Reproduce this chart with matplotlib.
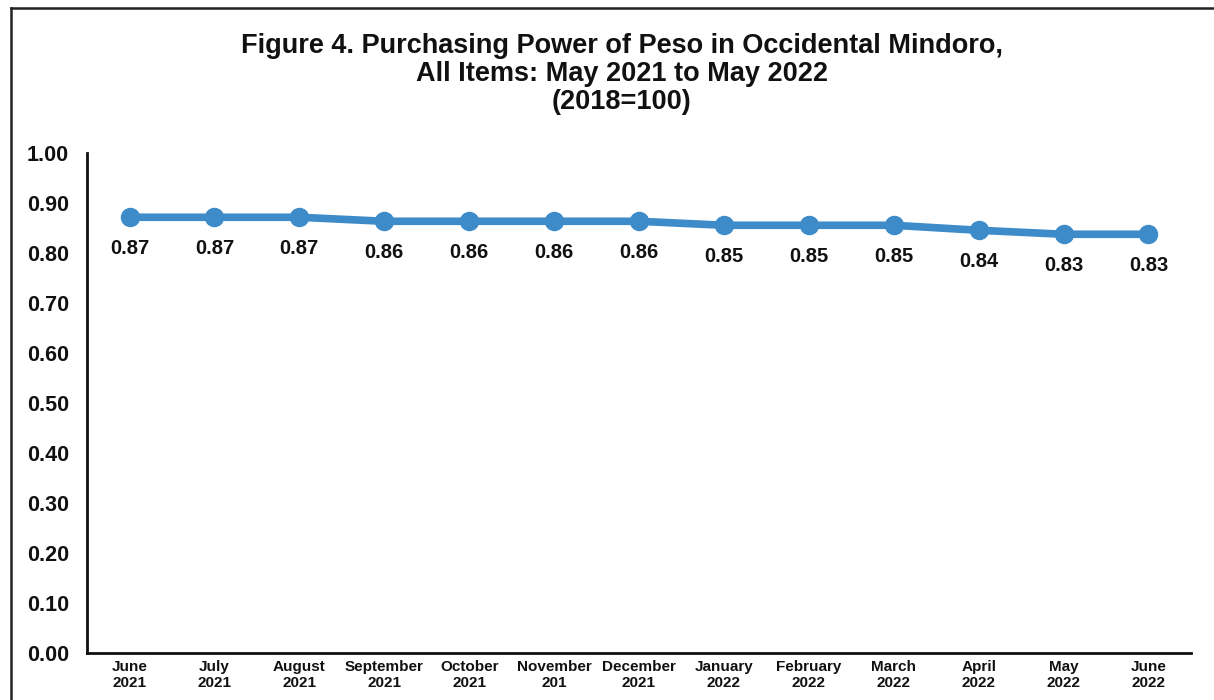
import matplotlib
matplotlib.use("Agg")
import matplotlib.pyplot as plt
from matplotlib.lines import Line2D

months = ["June\n2021", "July\n2021", "August\n2021", "September\n2021", "October\n2021",
          "November\n201", "December\n2021", "January\n2022", "February\n2022", "March\n2022",
          "April\n2022", "May\n2022", "June\n2022"]
ppp = [0.872, 0.872, 0.872, 0.864, 0.864, 0.864, 0.864, 0.856, 0.856, 0.856, 0.846, 0.838, 0.838]
ppp_labels = ["0.87", "0.87", "0.87", "0.86", "0.86", "0.86", "0.86", "0.85", "0.85", "0.85",
              "0.84", "0.83", "0.83"]
yticks = [0.0, 0.1, 0.2, 0.3, 0.4, 0.5, 0.6, 0.7, 0.8, 0.9, 1.0]

plt.rcParams['font.family'] = ['Liberation Sans', 'DejaVu Sans']
plt.rcParams['font.weight'] = 'bold'

fig = plt.figure(figsize=(12.14, 7.0), dpi=100)
ax = fig.add_axes([0.0717, 0.067, 0.9093, 0.714])

x = list(range(len(months)))
ax.plot(x, ppp, color='#3d8bc9', linewidth=5.5, marker='o', markersize=13,
        solid_capstyle='round', zorder=3)
for xi, v, lab in zip(x, ppp, ppp_labels):
    ax.annotate(lab, (xi, v), xytext=(0, -22.5), textcoords='offset points',
                ha='center', va='center', fontsize=14.5, fontweight='bold', color='#111111')

ax.set_xlim(-0.5, len(months) - 0.5)
ax.set_ylim(0, 1.0)
ax.set_yticks(yticks)
ax.set_yticklabels([f"{t:.2f}" for t in yticks], fontsize=15.5, fontweight='bold')
ax.set_xticks(x)
ax.set_xticklabels(months, fontsize=11, fontweight='bold', linespacing=1.15)
ax.tick_params(axis='both', length=0, colors='#111111')
ax.tick_params(axis='y', pad=13)
ax.tick_params(axis='x', pad=5)

for s in ['top', 'right']:
    ax.spines[s].set_visible(False)
for s in ['left', 'bottom']:
    ax.spines[s].set_linewidth(2)
    ax.spines[s].set_color('#111111')

fig.text(0.512, 0.894, "Figure 4. Purchasing Power of Peso in Occidental Mindoro,\n"
         "All Items: May 2021 to May 2022\n(2018=100)",
         ha='center', va='center', fontsize=19.5, fontweight='bold', linespacing=1.1,
         color='#111111')

# scanned page border (left and top edges)
fig.add_artist(Line2D([11 / 1214, 11 / 1214], [0, 1 - 8 / 700], color='#222222',
                      linewidth=1.8, transform=fig.transFigure))
fig.add_artist(Line2D([11 / 1214, 1], [1 - 8 / 700, 1 - 8 / 700], color='#222222',
                      linewidth=1.8, transform=fig.transFigure))

fig.savefig("out.png", dpi=100)
